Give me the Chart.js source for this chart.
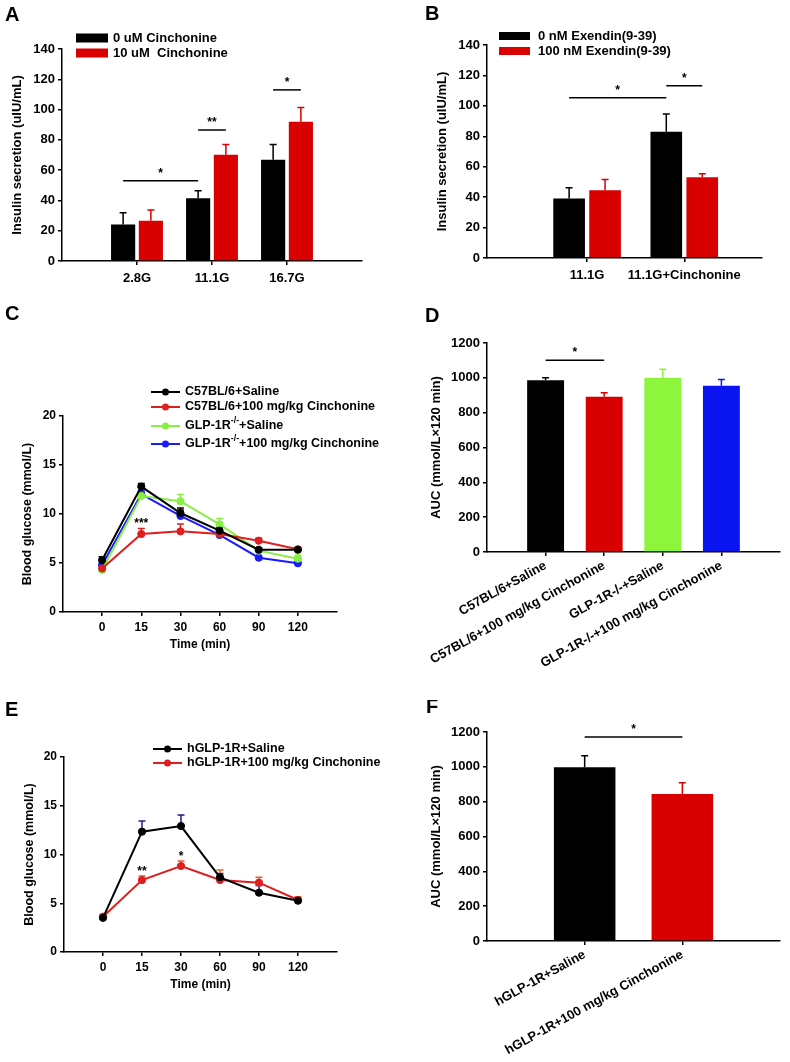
<!DOCTYPE html>
<html lang="en">
<head>
<meta charset="UTF-8">
<title>Cinchonine / GLP-1R figure</title>
<script src="https://cdn.jsdelivr.net/npm/chart.js@4.4.0/dist/chart.umd.min.js"></script>
<style>
  body { margin: 0; background: #fff; }
  #fig { position: relative; width: 790px; height: 1062px; background: #fff; }
  #fig canvas { position: absolute; }
</style>
</head>
<body>
<div id="fig">
  <canvas id="chartA" width="395" height="295" style="left:0px;top:0px"></canvas>
  <canvas id="chartB" width="390" height="295" style="left:400px;top:0px"></canvas>
  <canvas id="chartC" width="395" height="360" style="left:0px;top:300px"></canvas>
  <canvas id="chartD" width="390" height="400" style="left:400px;top:300px"></canvas>
  <canvas id="chartE" width="395" height="362" style="left:0px;top:700px"></canvas>
  <canvas id="chartF" width="390" height="362" style="left:400px;top:700px"></canvas>
</div>
<script>
// ---- data ----
// A: insulin secretion vs glucose
const glucoseLevels = ['2.8G', '11.1G', '16.7G'];
const insulinCtrl = [24.1, 41.5, 66.9];
const insulinCtrlSem = [7.7, 4.9, 10.1];
const insulinCinch = [26.5, 70.2, 92];
const insulinCinchSem = [7.1, 6.8, 9.3];

// B: exendin(9-39)
const exendinGroups = ['11.1G', '11.1G+Cinchonine'];
const exendin0 = [39.1, 82.9];
const exendin0Sem = [7.1, 11.8];
const exendin100 = [44.6, 53];
const exendin100Sem = [7, 2.4];

// C / E: OGTT time points
const timePoints = ['0', '15', '30', '60', '90', '120'];
const wtSaline = [5.3, 12.8, 10.1, 8.3, 6.35, 6.35];
const wtSalineSem = [0.35, 0.3, 0.5, 0.3, 0.2, 0.2];
const wtCinch = [4.45, 7.96, 8.23, 7.96, 7.28, 6.4];
const wtCinchSem = [0.2, 0.55, 0.75, 0.2, 0.25, 0.2];
const koSaline = [4.29, 11.84, 11.3, 8.94, 6.26, 5.44];
const koSalineSem = [0.2, 0.3, 0.7, 0.6, 0.2, 0.38];
const koCinch = [4.8, 12.04, 9.8, 7.86, 5.54, 4.97];
const koCinchSem = [0.25, 0.3, 0.6, 1.25, 0.2, 0.15];

// D: AUC
const aucGroupsD = ['C57BL/6+Saline', 'C57BL/6+100 mg/kg Cinchonine', 'GLP-1R-/-+Saline', 'GLP-1R-/-+100 mg/kg Cinchonine'];
const aucD = [986, 891, 1000, 954];
const aucDSem = [14, 23, 50, 36];

// E: hGLP-1R mice
const hSaline = [3.5, 12.34, 12.92, 7.66, 6.08, 5.26];
const hSalineSem = [0.15, 1.1, 1.13, 0.4, 0.75, 0.15];
const hCinch = [3.62, 7.38, 8.82, 7.38, 7.11, 5.33];
const hCinchSem = [0.15, 0.42, 0.51, 1.03, 0.55, 0.34];

// F: AUC hGLP-1R
const aucGroupsF = ['hGLP-1R+Saline', 'hGLP-1R+100 mg/kg Cinchonine'];
const aucF = [997, 844];
const aucFSem = [67, 65];

// ---- colours ----
const BLACK = '#000000';
const RED = '#d80000';
const GREEN = '#8cf53c';
const BLUE = '#0a14f0';
const LINE_RED = '#e01e1e';
const LINE_GREEN = '#88ee44';
const LINE_BLUE = '#1a1aff';

const FONT = '"Liberation Sans", Arial, sans-serif';
Chart.defaults.font.family = FONT;
Chart.defaults.font.weight = 'bold';
Chart.defaults.color = '#000';
Chart.defaults.animation = false;
Chart.defaults.events = [];
Chart.defaults.plugins.legend.display = false;
Chart.defaults.plugins.tooltip.enabled = false;

function pick(c, i) { return Array.isArray(c) ? c[i] : c; }

// draws "abc^sup^def" with superscript parts
function drawRich(ctx, text, x, y, size) {
  let cx = x;
  text.split('^').forEach((p, k) => {
    const sup = k % 2 === 1;
    ctx.font = 'bold ' + (sup ? size * 0.7 : size) + 'px ' + FONT;
    ctx.fillText(p, cx, sup ? y - size * 0.4 : y);
    cx += ctx.measureText(p).width;
  });
}

// error bars, significance bars, legend, panel letter
const figPlugin = {
  id: 'fig',
  beforeDatasetsDraw(chart, args, opts) {
    const ctx = chart.ctx, yScale = chart.scales.y;
    chart.data.datasets.forEach((ds, di) => {
      if (!ds.sem) return;
      const meta = chart.getDatasetMeta(di);
      ctx.save();
      ctx.lineWidth = 1.5;
      meta.data.forEach((el, i) => {
        const top = yScale.getPixelForValue(ds.data[i].y + ds.sem[i]);
        ctx.strokeStyle = pick(ds.semColor || ds.backgroundColor, i);
        ctx.beginPath();
        ctx.moveTo(el.x, el.y);
        ctx.lineTo(el.x, top);
        ctx.moveTo(el.x - 3.5, top);
        ctx.lineTo(el.x + 3.5, top);
        ctx.stroke();
      });
      ctx.restore();
    });
  },
  afterDraw(chart, args, opts) {
    const ctx = chart.ctx, yScale = chart.scales.y;
    ctx.save();
    ctx.fillStyle = '#000';
    ctx.strokeStyle = '#000';
    ctx.lineWidth = 1.5;
    ctx.textAlign = 'center';
    ctx.textBaseline = 'alphabetic';
    (opts.sig || []).forEach(s => {
      const x1 = chart.getDatasetMeta(s.from[0]).data[s.from[1]].x;
      const x2 = chart.getDatasetMeta(s.to[0]).data[s.to[1]].x;
      const y = yScale.getPixelForValue(s.y);
      ctx.beginPath();
      ctx.moveTo(x1, y);
      ctx.lineTo(x2, y);
      ctx.stroke();
      ctx.font = 'bold 12px ' + FONT;
      ctx.fillText(s.text, (x1 + x2) / 2, y - 4);
    });
    (opts.marks || []).forEach(m => {
      const x = chart.getDatasetMeta(m.at[0]).data[m.at[1]].x;
      const y = yScale.getPixelForValue(m.y);
      ctx.font = 'bold 12px ' + FONT;
      ctx.fillText(m.text, x, y + 7);
    });
    const lg = opts.legend;
    if (lg) {
      ctx.textAlign = 'left';
      ctx.textBaseline = 'middle';
      chart.data.datasets.forEach((ds, di) => {
        const ry = lg.rows[di];
        if (lg.kind === 'box') {
          ctx.fillStyle = ds.backgroundColor;
          ctx.fillRect(lg.x, ry - lg.h / 2, lg.w, lg.h);
        } else {
          ctx.strokeStyle = ds.borderColor;
          ctx.lineWidth = 2;
          ctx.beginPath();
          ctx.moveTo(lg.x, ry);
          ctx.lineTo(lg.x + lg.w, ry);
          ctx.stroke();
          ctx.fillStyle = ds.borderColor;
          ctx.beginPath();
          ctx.arc(lg.x + lg.w / 2, ry, 3.5, 0, Math.PI * 2);
          ctx.fill();
        }
        ctx.fillStyle = '#000';
        drawRich(ctx, ds.legendText || ds.label, lg.textX, ry, lg.size);
      });
    }
    if (opts.letter) {
      ctx.textAlign = 'left';
      ctx.textBaseline = 'alphabetic';
      ctx.fillStyle = '#000';
      ctx.font = 'bold 20px ' + FONT;
      ctx.fillText(opts.letter.text, opts.letter.x, opts.letter.y);
    }
    ctx.restore();
  }
};

function yAxis(o) {
  return {
    min: 0, max: o.max,
    ticks: { stepSize: o.step, font: { size: o.tick }, padding: 3, callback: v => String(v) },
    grid: { drawOnChartArea: false, tickLength: 4, color: '#000', lineWidth: 1.5 },
    border: { color: '#000', width: 1.5 },
    title: { display: true, text: o.title, font: { size: o.titleSize }, padding: { top: o.titlePad, bottom: 0 } },
    afterFit: s => { s.width = o.width; }
  };
}

function xAxis(o) {
  return {
    type: 'linear', min: o.min, max: o.max, offset: false,
    afterBuildTicks: s => { s.ticks = o.labels.map((_, i) => ({ value: i + o.first })); },
    ticks: {
      callback: (v, i) => o.labels[i], autoSkip: false,
      font: { size: o.tick }, padding: o.pad,
      minRotation: o.rot || 0, maxRotation: o.rot || 0
    },
    grid: { drawOnChartArea: false, offset: false, tickLength: 4, color: '#000', lineWidth: 1.5 },
    border: { color: '#000', width: 1.5 },
    title: o.title
      ? { display: true, text: o.title, font: { size: 12 }, padding: { top: 0, bottom: o.titlePad } }
      : { display: false },
    afterFit: s => { s.height = o.height; }
  };
}

function points(vals, first) { return vals.map((v, i) => ({ x: i + first, y: v })); }

function barSet(label, vals, sem, color, first, cp, bp) {
  return {
    label: label, data: points(vals, first), sem: sem,
    backgroundColor: color, borderWidth: 0,
    categoryPercentage: cp, barPercentage: bp
  };
}

function lineSet(label, vals, sem, color, semColor) {
  return {
    label: label, data: points(vals, 0), sem: sem, semColor: semColor || color,
    borderColor: color, backgroundColor: color, borderWidth: 2, tension: 0,
    pointRadius: 3.6, pointBackgroundColor: color, pointBorderColor: color, pointBorderWidth: 1
  };
}

function baseOptions(padding) {
  return { responsive: false, devicePixelRatio: 1, layout: { padding: padding } };
}

// ---- A ----
new Chart(document.getElementById('chartA'), {
  type: 'bar',
  data: {
    datasets: [
      barSet('0 uM Cinchonine', insulinCtrl, insulinCtrlSem, BLACK, 1, 0.74, 0.87),
      barSet('10 uM  Cinchonine', insulinCinch, insulinCinchSem, RED, 1, 0.74, 0.87)
    ]
  },
  options: Object.assign(baseOptions({ left: 0, top: 49, right: 33, bottom: 0 }), {
    scales: {
      x: xAxis({ min: 0, max: 4, first: 1, labels: glucoseLevels, tick: 13, pad: 6, height: 34 }),
      y: yAxis({ max: 140, step: 20, tick: 13, title: 'Insulin secretion (uIU/mL)', titleSize: 13, titlePad: 9.2, width: 62 })
    },
    plugins: {
      fig: {
        letter: { text: 'A', x: 5, y: 21 },
        legend: { kind: 'box', x: 76, w: 32, h: 9, rows: [38, 53], textX: 113, size: 13 },
        sig: [
          { from: [0, 0], to: [0, 1], y: 53, text: '*' },
          { from: [0, 1], to: [1, 1], y: 86.5, text: '**' },
          { from: [0, 2], to: [1, 2], y: 113, text: '*' }
        ]
      }
    }
  }),
  plugins: [figPlugin]
});

// ---- B ----
new Chart(document.getElementById('chartB'), {
  type: 'bar',
  data: {
    datasets: [
      barSet('0 nM Exendin(9-39)', exendin0, exendin0Sem, BLACK, 1, 0.74, 0.88),
      barSet('100 nM Exendin(9-39)', exendin100, exendin100Sem, RED, 1, 0.74, 0.88)
    ]
  },
  options: Object.assign(baseOptions({ left: 0, top: 45, right: 28, bottom: 0 }), {
    scales: {
      x: xAxis({ min: -0.03, max: 2.8, first: 1, labels: exendinGroups, tick: 13, pad: 6, height: 37 }),
      y: yAxis({ max: 140, step: 20, tick: 13, title: 'Insulin secretion (uIU/mL)', titleSize: 13, titlePad: 34.9, width: 87 })
    },
    plugins: {
      fig: {
        letter: { text: 'B', x: 25, y: 20 },
        legend: { kind: 'box', x: 99, w: 31, h: 8, rows: [36, 51], textX: 138, size: 13 },
        sig: [
          { from: [0, 0], to: [0, 1], y: 105.3, text: '*' },
          { from: [0, 1], to: [1, 1], y: 113.2, text: '*' }
        ]
      }
    }
  }),
  plugins: [figPlugin]
});

// ---- C ----
new Chart(document.getElementById('chartC'), {
  type: 'line',
  data: {
    datasets: [
      lineSet('C57BL/6+Saline', wtSaline, wtSalineSem, BLACK),
      lineSet('C57BL/6+100 mg/kg Cinchonine', wtCinch, wtCinchSem, LINE_RED),
      Object.assign(lineSet('GLP-1R-/-+Saline', koSaline, koSalineSem, LINE_GREEN), { legendText: 'GLP-1R^-/-^+Saline' }),
      Object.assign(lineSet('GLP-1R-/-+100 mg/kg Cinchonine', koCinch, koCinchSem, LINE_BLUE), { legendText: 'GLP-1R^-/-^+100 mg/kg Cinchonine' })
    ]
  },
  options: Object.assign(baseOptions({ left: 0, top: 116, right: 58, bottom: 3 }), {
    scales: {
      x: xAxis({ min: -1, max: 6, first: 0, labels: timePoints, tick: 12, pad: 4.8, height: 45, title: 'Time (min)', titlePad: 4.8 }),
      y: yAxis({ max: 20, step: 5, tick: 12, title: 'Blood glucose (mmol/L)', titleSize: 12.5, titlePad: 20.5, width: 63 })
    },
    plugins: {
      fig: {
        letter: { text: 'C', x: 5, y: 20 },
        legend: { kind: 'line', x: 151, w: 29, rows: [92, 107, 126, 144], textX: 185, size: 12.5 },
        marks: [{ at: [1, 1], y: 9.4, text: '***' }]
      }
    }
  }),
  plugins: [figPlugin]
});

// ---- D ----
new Chart(document.getElementById('chartD'), {
  type: 'bar',
  data: {
    datasets: [
      barSet('AUC', aucD, aucDSem, [BLACK, RED, GREEN, BLUE], 1, 0.7, 0.9)
    ]
  },
  options: Object.assign(baseOptions({ left: 0, top: 43, right: 10, bottom: 0 }), {
    scales: {
      x: xAxis({ min: 0, max: 5, first: 1, labels: aucGroupsD, tick: 13, pad: 2, height: 148, rot: 29 }),
      y: yAxis({ max: 1200, step: 200, tick: 13, title: 'AUC (mmol/L\u00d7120 min)', titleSize: 13, titlePad: 28.2, width: 87 })
    },
    plugins: {
      fig: {
        letter: { text: 'D', x: 25, y: 22 },
        sig: [{ from: [0, 0], to: [0, 1], y: 1101, text: '*' }]
      }
    }
  }),
  plugins: [figPlugin]
});

// ---- E ----
new Chart(document.getElementById('chartE'), {
  type: 'line',
  data: {
    datasets: [
      lineSet('hGLP-1R+Saline', hSaline, hSalineSem, BLACK, '#1c1c8c'),
      lineSet('hGLP-1R+100 mg/kg Cinchonine', hCinch, hCinchSem, LINE_RED, '#e8602c')
    ]
  },
  options: Object.assign(baseOptions({ left: 0, top: 57, right: 58, bottom: 65 }), {
    scales: {
      x: xAxis({ min: -1, max: 6, first: 0, labels: timePoints, tick: 12, pad: 4.8, height: 45, title: 'Time (min)', titlePad: 4.8 }),
      y: yAxis({ max: 20, step: 5, tick: 12, title: 'Blood glucose (mmol/L)', titleSize: 12.5, titlePad: 21.8, width: 64 })
    },
    plugins: {
      fig: {
        letter: { text: 'E', x: 5, y: 16 },
        legend: { kind: 'line', x: 153, w: 29, rows: [49, 63], textX: 187, size: 12.5 },
        marks: [
          { at: [1, 1], y: 8.65, text: '**' },
          { at: [1, 2], y: 10.2, text: '*' }
        ]
      }
    }
  }),
  plugins: [figPlugin]
});

// ---- F ----
new Chart(document.getElementById('chartF'), {
  type: 'bar',
  data: {
    datasets: [
      barSet('AUC', aucF, aucFSem, [BLACK, RED], 1, 0.7, 0.9)
    ]
  },
  options: Object.assign(baseOptions({ left: 0, top: 32, right: 10, bottom: 0 }), {
    scales: {
      x: xAxis({ min: 0, max: 3, first: 1, labels: aucGroupsF, tick: 13, pad: 2, height: 121, rot: 29 }),
      y: yAxis({ max: 1200, step: 200, tick: 13, title: 'AUC (mmol/L\u00d7120 min)', titleSize: 13, titlePad: 28.2, width: 87 })
    },
    plugins: {
      fig: {
        letter: { text: 'F', x: 26, y: 13 },
        sig: [{ from: [0, 0], to: [0, 1], y: 1171, text: '*' }]
      }
    }
  }),
  plugins: [figPlugin]
});
</script>
</body>
</html>
